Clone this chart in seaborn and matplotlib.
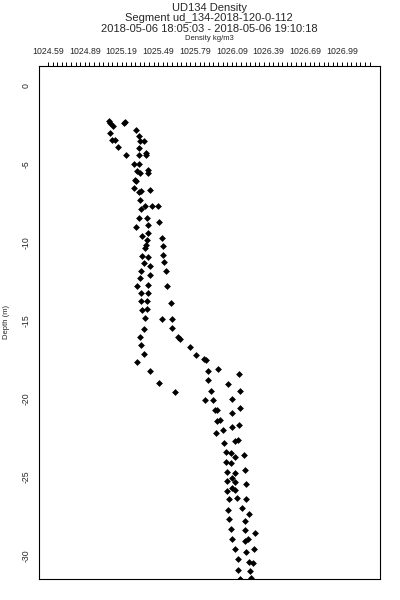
import numpy as np
import pandas as pd
import matplotlib
matplotlib.use("Agg")
import matplotlib.pyplot as plt
import seaborn as sns

# ---- data ----
density = [
    1025.09, 1025.10, 1025.12, 1025.21, 1025.22, 1025.31, 1025.10, 1025.11, 1025.14, 1025.33,
    1025.34, 1025.37, 1025.33, 1025.16, 1025.23, 1025.33, 1025.39, 1025.39, 1025.29, 1025.33,
    1025.32, 1025.34, 1025.41, 1025.41, 1025.30, 1025.31, 1025.29, 1025.33, 1025.35, 1025.42,
    1025.34, 1025.38, 1025.35, 1025.44, 1025.49, 1025.33, 1025.40, 1025.50, 1025.31, 1025.41,
    1025.41, 1025.36, 1025.40, 1025.52, 1025.39, 1025.38, 1025.53, 1025.36, 1025.41, 1025.53,
    1025.37, 1025.42, 1025.54, 1025.35, 1025.55, 1025.42, 1025.34, 1025.32, 1025.41, 1025.56,
    1025.35, 1025.41, 1025.35, 1025.40, 1025.59, 1025.36, 1025.40, 1025.38, 1025.52, 1025.60,
    1025.37, 1025.60, 1025.34, 1025.65, 1025.67, 1025.35, 1025.37, 1025.75, 1025.80, 1025.32,
    1025.86, 1025.88, 1025.42, 1025.90, 1025.98, 1026.15, 1025.50, 1025.90, 1026.06, 1026.16,
    1025.92, 1025.63, 1025.87, 1025.94, 1026.09, 1026.16, 1025.95, 1025.97, 1026.09, 1025.99,
    1025.97, 1025.96, 1026.02, 1026.09, 1026.15, 1026.03, 1026.12, 1026.14, 1026.04, 1026.08,
    1026.12, 1026.19, 1026.04, 1026.08, 1026.05, 1026.12, 1026.20, 1026.05, 1026.09, 1026.12,
    1026.21, 1026.05, 1026.09, 1026.12, 1026.13, 1026.07, 1026.21, 1026.06, 1026.17, 1026.23,
    1026.07, 1026.20, 1026.08, 1026.20, 1026.28, 1026.09, 1026.20, 1026.22, 1026.12, 1026.21,
    1026.27, 1026.14, 1026.23, 1026.26, 1026.14, 1026.24, 1026.16, 1026.25,
]
depth = [
    -2.28, -2.36, -2.55, -2.38, -2.30, -2.81, -3.02, -3.45, -3.45, -3.24,
    -3.55, -3.55, -3.98, -3.91, -4.45, -4.40, -4.30, -4.45, -4.98, -4.98,
    -5.47, -5.57, -5.36, -5.57, -6.00, -6.11, -6.53, -6.81, -6.75, -6.64,
    -7.28, -7.70, -7.91, -7.70, -7.70, -8.44, -8.44, -8.72, -9.02, -8.93,
    -9.40, -9.62, -9.83, -9.76, -10.15, -10.36, -10.21, -10.85, -10.96, -10.79,
    -11.32, -11.53, -11.28, -11.81, -11.85, -12.11, -12.27, -12.81, -12.70, -12.81,
    -13.23, -13.23, -13.77, -13.77, -13.87, -14.30, -14.25, -14.83, -14.89, -14.89,
    -15.53, -15.46, -16.04, -16.04, -16.17, -16.59, -17.12, -16.70, -17.17, -17.66,
    -17.44, -17.55, -18.19, -18.19, -18.12, -18.44, -18.97, -18.81, -19.04, -19.51,
    -19.47, -19.55, -20.10, -20.10, -19.98, -20.57, -20.74, -20.68, -20.93, -21.32,
    -21.42, -22.17, -22.00, -21.78, -21.64, -22.80, -22.70, -22.64, -23.40, -23.44,
    -23.72, -23.59, -24.04, -24.12, -24.68, -24.72, -24.51, -25.25, -25.04, -25.29,
    -25.46, -25.89, -25.68, -25.83, -26.31, -26.42, -26.38, -27.10, -26.95, -27.38,
    -27.65, -27.81, -28.29, -28.40, -28.59, -28.93, -29.08, -28.93, -29.61, -29.78,
    -29.57, -30.25, -30.42, -30.46, -30.93, -31.00, -31.48, -31.42,
]
x_tick_labels = ["1024.59", "1024.89", "1025.19", "1025.49", "1025.79",
                 "1026.09", "1026.39", "1026.69", "1026.99"]
y_ticks = [0, -5, -10, -15, -20, -25, -30]

title_lines = ["UD134 Density",
               "Segment ud_134-2018-120-0-112",
               "2018-05-06 18:05:03 - 2018-05-06 19:10:18"]
x_label = "Density kg/m3"
y_label = "Depth (m)"

df = pd.DataFrame({"density": density, "depth": depth})

sns.set_theme(style="white")
plt.rcParams["font.family"] = ["Liberation Sans", "DejaVu Sans"]

fig = plt.figure(figsize=(4, 6), dpi=100)
ax = fig.add_axes([39 / 400, 1 - 579 / 600, 341 / 400, 513 / 600])

sns.scatterplot(data=df, x="density", y="depth", ax=ax, color="black",
                marker="D", s=12, linewidth=0, legend=False)

ax.set_xlim(1024.5165, 1027.30)
ax.set_ylim(-31.5, 1.25)

# top x axis
major_x = [float(t) for t in x_tick_labels]
ax.xaxis.tick_top()
ax.set_xticks(major_x)
ax.set_xticklabels(x_tick_labels, fontsize=6.3)
minor_x = np.arange(0, 71) * 0.0375 + 1024.59
ax.set_xticks(minor_x, minor=True)
ax.tick_params(axis="x", which="both", direction="out", length=3, width=0.7,
               color="black", top=True, bottom=False, pad=4)
ax.set_xlabel("")

ax.set_yticks(y_ticks)
ax.set_yticklabels([str(v) for v in y_ticks], rotation=90, va="center", fontsize=6.3)
ax.tick_params(axis="y", length=0, pad=6)
ax.set_ylabel("")

for s in ax.spines.values():
    s.set_color("black")
    s.set_linewidth(0.8)
    s.set_visible(True)

fig.text(0.5225, 1 - 8 / 600, title_lines[0], ha="center", va="center", fontsize=8)
fig.text(0.5225, 1 - 18 / 600, title_lines[1], ha="center", va="center", fontsize=8)
fig.text(0.5225, 1 - 29 / 600, title_lines[2], ha="center", va="center", fontsize=8)
fig.text(0.5225, 1 - 38 / 600, x_label, ha="center", va="center", fontsize=5.5)
fig.text(7 / 400, 1 - 322 / 600, y_label, ha="center", va="center", rotation=90, fontsize=5.5)

fig.savefig("out.png", dpi=100, facecolor="white")
